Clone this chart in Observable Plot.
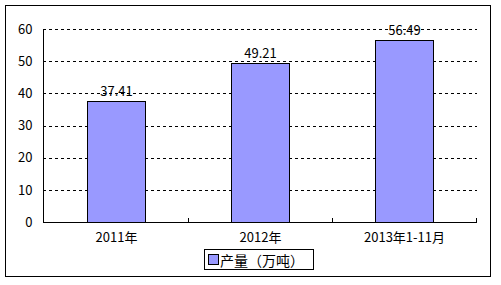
<!DOCTYPE html>
<html><head><meta charset="utf-8">
<script src="https://cdn.jsdelivr.net/npm/d3@7"></script>
<script src="https://cdn.jsdelivr.net/npm/@observablehq/plot@0.6"></script>
<style>
body{margin:0;background:#fff}
#wrap{position:relative;width:501px;height:285px;font-family:"Noto Sans CJK SC",sans-serif;background:#fff}
#border{position:absolute;left:5px;top:5px;width:486px;height:272px;border:1px solid #000;box-sizing:border-box;pointer-events:none}
#legend{position:absolute;left:204px;top:249px;width:110px;height:21px;border:1px solid #000;box-sizing:border-box;display:flex;align-items:center;font-size:14px;color:#000;background:#fff}
#legend .sw{width:9px;height:9px;background:#9999ff;border:1px solid #000;margin-left:3px;margin-right:1px;flex:none}
#chart{position:absolute;left:0;top:0}
</style>
</head><body>
<div id="wrap"><div id="chart"></div><div id="border"></div><div id="legend"><span class="sw"></span><span id="legtext"></span></div></div>
<script>
const categories = ["2011年", "2012年", "2013年1-11月"];
const values = [37.41, 49.21, 56.49];
const yTicks = [0, 10, 20, 30, 40, 50, 60];
const seriesName = "产量（万吨）";

const data = categories.map((c, i) => ({cat: c, value: values[i]}));
document.getElementById("legtext").textContent = seriesName;

const W = 501, H = 285, mL = 43, mR = 24, mT = 29, mB = 63;
const step = (W - mL - mR) / categories.length;

const chart = Plot.plot({
  width: W, height: H,
  marginLeft: mL, marginRight: mR, marginTop: mT, marginBottom: mB,
  style: {fontFamily: '"Noto Sans CJK SC", sans-serif', fontSize: "13px", background: "transparent", color: "#000"},
  x: {domain: categories, paddingInner: 0.6, paddingOuter: 0.3},
  y: {domain: [0, 60], ticks: yTicks},
  marks: [
    Plot.ruleY(yTicks.filter(d => d > 0), {stroke: "#000", strokeDasharray: "3,3", strokeWidth: 1, shapeRendering: "crispEdges"}),
    Plot.barY(data, {x: "cat", y: "value", fill: "#9999ff", stroke: "#000", strokeWidth: 1, shapeRendering: "crispEdges"}),
    Plot.ruleY([0], {stroke: "#000", strokeWidth: 1.5, shapeRendering: "crispEdges"}),
    Plot.frame({anchor: "left", stroke: "#000", strokeWidth: 1.5, shapeRendering: "crispEdges"}),
    Plot.ruleX(categories, {x: d => d, y1: 0, y2: 0, insetTop: -4, dx: step / 2, stroke: "#000", shapeRendering: "crispEdges"}),
    Plot.text(data, {x: "cat", y: "value", text: d => d.value.toFixed(2), dy: -10, fontSize: 13, fill: "#000"}),
    Plot.axisY({ticks: yTicks, tickSize: 0, tickPadding: 11, label: null, fontSize: 13}),
    Plot.axisX({tickSize: 0, tickPadding: 10, label: null, fontSize: 13})
  ]
});
document.getElementById("chart").appendChild(chart);
</script>
</body></html>
